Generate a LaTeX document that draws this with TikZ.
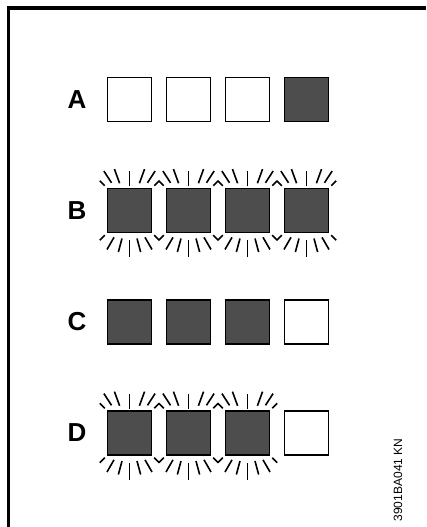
\documentclass[tikz,border=0pt]{standalone}
\usepackage{fontspec}
\setmainfont{Liberation Sans}
\usetikzlibrary{calc}
\definecolor{lampgray}{RGB}{77,77,77}

% rays round a lit lamp
\newcommand{\glow}[1]{%
  \foreach \a/\ra/\rb in {90/24/39,70/29/44,110/29/44,57/33/47,123/33/47,45/35/42,135/35/42,
                          270/30/47,255/29/43,285/29/43,240/31/45,300/31/45,225/35/42,315/35/42}
    \draw[ray] ($(#1)+(\a:\ra)$) -- ($(#1)+(\a:\rb)$);}

\begin{document}
\begin{tikzpicture}[x=1pt,y=1pt,
    lamp/.style={draw,line width=1.3pt,minimum size=44pt,inner sep=0pt,fill=white},
    lamp on/.style={lamp,fill=lampgray},
    row label/.style={font=\fontsize{26}{30}\selectfont\bfseries},
    ray/.style={line width=1.6pt}]
  \useasboundingbox (0,0) rectangle (426,527);
  \draw[line width=3.5pt] (8.5,0) -- (8.5,519) -- (426,519);

  % A
  \node[row label] (labA) at (77,427.5) {A};
  \foreach \i/\s in {1/lamp,2/lamp,3/lamp,4/lamp on}
    \node[\s] (A\i) at (70.5+59*\i,427.5) {};
  % B
  \node[row label] (labB) at (77,316.5) {B};
  \foreach \i in {1,...,4}{
    \node[lamp on] (B\i) at (70.5+59*\i,316.5) {};
    \glow{B\i}}
  % C
  \node[row label] (labC) at (77,205) {C};
  \foreach \i/\s in {1/lamp on,2/lamp on,3/lamp on,4/lamp}
    \node[\s] (C\i) at (70.5+59*\i,205) {};
  % D
  \node[row label] (labD) at (77,94) {D};
  \foreach \i/\s in {1/lamp on,2/lamp on,3/lamp on,4/lamp}
    \node[\s] (D\i) at (70.5+59*\i,94) {};
  \foreach \i in {1,2,3} {\glow{D\i}}

  \node[rotate=90,font=\fontsize{12}{14}\selectfont] (code) at (398,47) {3901BA041 KN};
\end{tikzpicture}
\end{document}
